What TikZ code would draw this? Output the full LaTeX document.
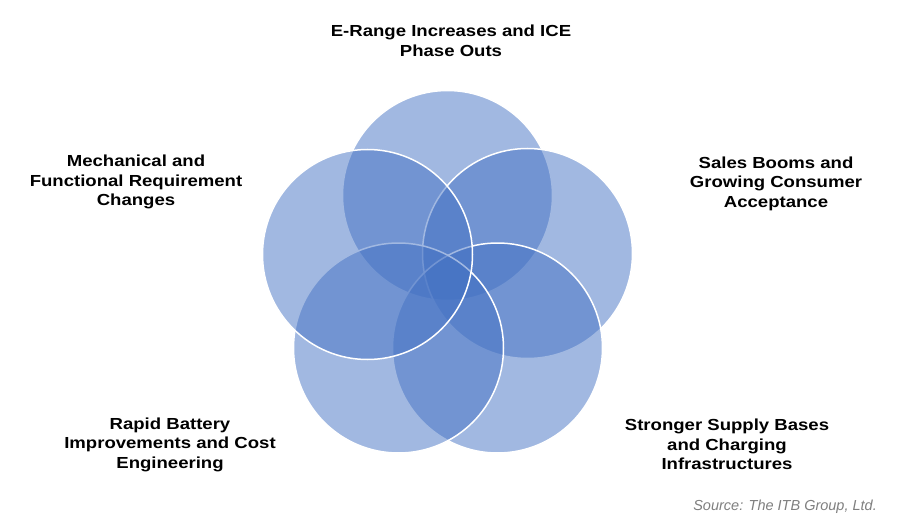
\documentclass[tikz,border=0pt]{standalone}
\usepackage{fontspec}
\setmainfont{Liberation Sans}
\newfontfamily\lblfont[FakeStretch=1.16]{Liberation Sans}
\definecolor{vblue}{RGB}{68,114,196}
\definecolor{srcgray}{RGB}{127,127,127}
\begin{document}
\begin{tikzpicture}[x=1pt,y=-1pt,
  venn/.style={circle,minimum size=210pt,inner sep=0pt,draw=white,line width=1.5pt,fill=vblue,fill opacity=0.5},
  lbl/.style={align=center,font=\lblfont\fontsize{16}{19.5}\selectfont\bfseries,text=black,inner sep=0pt},
  src/.style={font=\fontsize{14.5}{17}\selectfont\itshape,text=srcgray,inner sep=0pt,anchor=east}]
\useasboundingbox (0,0) rectangle (900,532);
\fill[white] (0,0) rectangle (900,532);
\node[venn] (ctop) at (447.5,195.5) {};
\node[venn] (cru) at (527.5,253.5) {};
\node[venn] (crl) at (497.5,348) {};
\node[venn] (cll) at (398.5,348) {};
\node[venn] (clu) at (367.5,254.5) {};
\node[lbl] (ttop) at (451,41) {E-Range Increases and ICE\\Phase Outs};
\node[lbl] (tlu) at (136,182) {Mechanical and\\Functional Requirement\\Changes};
\node[lbl] (tru) at (776,183.5) {Sales Booms and\\Growing Consumer\\Acceptance};
\node[lbl] (trl) at (727,444.5) {Stronger Supply Bases\\and Charging\\Infrastructures};
\node[lbl] (tll) at (170,444.5) {Rapid Battery\\Improvements and Cost\\Engineering};
\node[src] (source) at (877,507) {Source: The ITB Group, Ltd.};
\end{tikzpicture}
\end{document}
